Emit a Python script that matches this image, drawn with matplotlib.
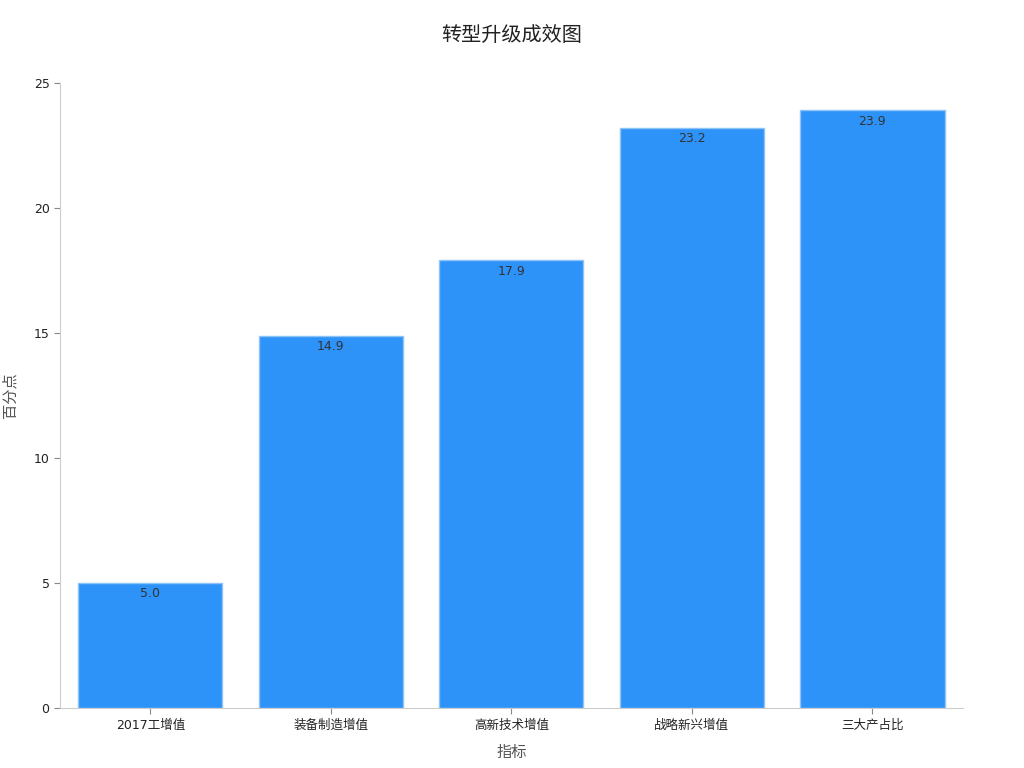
import matplotlib
matplotlib.use("Agg")
import matplotlib.pyplot as plt

plt.rcParams['font.family'] = ['DejaVu Sans', 'Noto Sans CJK SC']

categories = ["2017工增值", "装备制造增值", "高新技术增值", "战略新兴增值", "三大产占比"]
values = [5.0, 14.9, 17.9, 23.2, 23.9]

fig = plt.figure(figsize=(10.24, 7.68), dpi=100)
ax = fig.add_axes([0.0586, 0.078, 0.8814, 0.814])

x = list(range(len(categories)))
bars = ax.bar(x, values, width=0.8, color="#2E93F9", edgecolor="#8EC3F5", linewidth=1)
for xi, v in zip(x, values):
    ax.annotate(f"{v:.1f}", (xi, v), xytext=(0, -3), textcoords="offset points",
                ha="center", va="top", fontsize=9, color="#333333")

ax.set_xlim(-0.5, 4.5)
ax.set_ylim(0, 25)
ax.set_xticks(x)
ax.set_xticklabels(categories, fontsize=9, color="#222222")
ax.set_yticks([0, 5, 10, 15, 20, 25])
ax.tick_params(axis='y', labelsize=9, colors="#222222", length=4)
ax.tick_params(axis='x', length=4)
for s in ["top", "right"]:
    ax.spines[s].set_visible(False)
for s in ["left", "bottom"]:
    ax.spines[s].set_color("#CCCCCC")
ax.tick_params(axis='both', color="#888888")

ax.set_xlabel("指标", fontsize=11, color="#555555", labelpad=10)
ax.set_ylabel("百分点", fontsize=11, color="#555555", labelpad=12)
fig.suptitle("转型升级成效图", fontsize=14.5, color="#222222", y=0.966)

fig.savefig("out.png", dpi=100)
